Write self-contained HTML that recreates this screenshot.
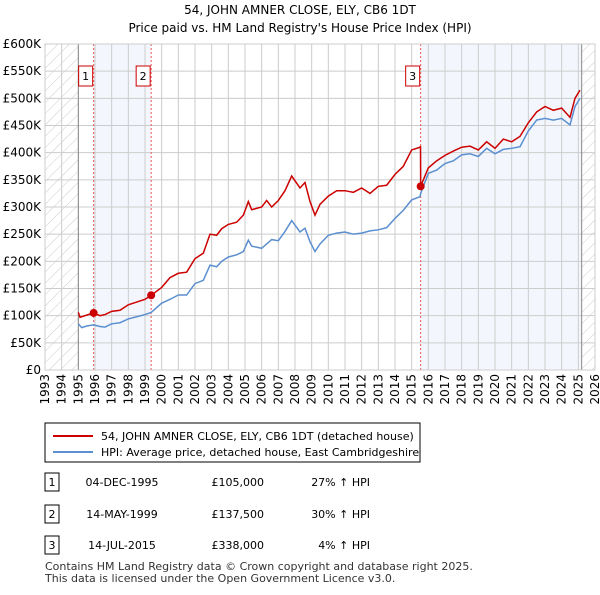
<!DOCTYPE html>
<html><head><meta charset="utf-8"><style>
body{margin:0;width:600px;height:590px;background:#fff;font-family:"Liberation Sans",sans-serif;overflow:hidden}
svg text{font-family:"DejaVu Sans","Liberation Sans",sans-serif}
</style></head><body>
<svg id="c" width="600" height="590">
<defs><pattern id="h" width="8" height="8" patternUnits="userSpaceOnUse" patternTransform="rotate(45)"><line x1="0" y1="0" x2="0" y2="8" stroke="#ccc" stroke-width="1"/></pattern></defs>
<text x="300" y="14" text-anchor="middle" font-size="12">54, JOHN AMNER CLOSE, ELY, CB6 1DT</text>
<text x="300" y="32" text-anchor="middle" font-size="12">Price paid vs. HM Land Registry's House Price Index (HPI)</text>
<g id="plot"></g>
<rect x="45" y="423" width="375" height="39" fill="#fff" stroke="#000" stroke-width="1"/>
<line x1="53" y1="436" x2="93" y2="436" stroke="#cc0000" stroke-width="2"/>
<text x="101" y="440" font-size="11">54, JOHN AMNER CLOSE, ELY, CB6 1DT (detached house)</text>
<line x1="53" y1="452" x2="93" y2="452" stroke="#5b8fd0" stroke-width="2"/>
<text x="101" y="456" font-size="11">HPI: Average price, detached house, East Cambridgeshire</text>
<g id="tbl" font-size="11"></g>
<text x="45" y="570" font-size="11" fill="#333">Contains HM Land Registry data © Crown copyright and database right 2025.</text>
<text x="45" y="582" font-size="11" fill="#333">This data is licensed under the Open Government Licence v3.0.</text>
</svg>
<script>
const hpiYears=[1995.0,1995.2,1995.5,1995.92,1996.3,1996.6,1997.0,1997.5,1998.0,1998.5,1999.0,1999.37,2000.0,2000.5,2001.0,2001.5,2002.0,2002.5,2002.9,2003.3,2003.6,2004.0,2004.5,2004.9,2005.2,2005.4,2006.0,2006.3,2006.6,2007.0,2007.4,2007.8,2008.3,2008.6,2008.9,2009.2,2009.5,2010.0,2010.5,2011.0,2011.5,2012.0,2012.5,2013.0,2013.5,2014.0,2014.5,2015.0,2015.5,2015.54,2016.0,2016.5,2017.0,2017.5,2018.0,2018.5,2019.0,2019.5,2020.0,2020.5,2021.0,2021.5,2022.0,2022.5,2023.0,2023.5,2024.0,2024.5,2024.8,2025.1];
const hpiValues=[85,78,81,83,80,79,85,87,94,98,102,106,123,130,138,138,159,165,193,190,200,208,212,218,239,228,224,232,240,238,255,275,254,261,236,218,232,248,252,254,250,252,256,258,262,279,294,313,319,325,362,368,380,385,396,398,393,408,398,406,408,411,440,460,463,460,463,451,485,500];
const redYears=[1995.0,1995.1,1995.5,1995.92,1996.3,1996.6,1997.0,1997.5,1998.0,1998.5,1999.0,1999.37,2000.0,2000.5,2001.0,2001.5,2002.0,2002.5,2002.9,2003.3,2003.6,2004.0,2004.5,2004.9,2005.2,2005.4,2006.0,2006.3,2006.6,2007.0,2007.4,2007.8,2008.3,2008.6,2008.9,2009.2,2009.5,2010.0,2010.5,2011.0,2011.5,2012.0,2012.5,2013.0,2013.5,2014.0,2014.5,2015.0,2015.5,2015.53,2015.54,2016.0,2016.5,2017.0,2017.5,2018.0,2018.5,2019.0,2019.5,2020.0,2020.5,2021.0,2021.5,2022.0,2022.5,2023.0,2023.5,2024.0,2024.5,2024.8,2025.1];
const redValues=[106,97,101,105,100,102,108,110,120,125,130,137.5,152,170,178,180,205,215,250,248,260,268,272,285,310,295,300,312,300,312,330,357,335,345,310,285,305,320,330,330,327,335,325,338,340,360,375,405,410,412,338,372,385,395,403,410,412,405,420,408,425,420,430,455,475,485,478,482,465,500,515];
const sales=[{n:"1",x:1995.92,v:105,date:"04-DEC-1995",price:"£105,000",pct:"27% ↑ HPI"},{n:"2",x:1999.37,v:137.5,date:"14-MAY-1999",price:"£137,500",pct:"30% ↑ HPI"},{n:"3",x:2015.54,v:338,date:"14-JUL-2015",price:"£338,000",pct:"4% ↑ HPI"}];
const yTicks=[0,50,100,150,200,250,300,350,400,450,500,550,600];
const yTickLabels=["£0","£50K","£100K","£150K","£200K","£250K","£300K","£350K","£400K","£450K","£500K","£550K","£600K"];
const xTicks=[];for(let y=1993;y<=2026;y++)xTicks.push(y);
const X0=45,X1=595,Y0=370,Y1=44,ymin=1993,ymax=2026;
const sx=y=>X0+(y-ymin)/(ymax-ymin)*(X1-X0);
const sy=v=>Y0-v/600*(Y0-Y1);
const NS="http://www.w3.org/2000/svg";
const plot=document.getElementById('plot');
function mk(t,a,p){const e=document.createElementNS(NS,t);for(const k in a)e.setAttribute(k,a[k]);(p||plot).appendChild(e);return e;}
let e;
e=mk('rect',{x:X0,y:Y1,width:sx(1995)-X0,height:Y0-Y1,fill:'url(#h)'});


e=mk('rect',{x:sx(2025.2),y:Y1,width:X1-sx(2025.2),height:Y0-Y1,fill:'url(#h)'});


e=mk('rect',{x:sx(sales[0].x),y:Y1,width:sx(sales[1].x)-sx(sales[0].x),height:Y0-Y1,fill:'#eef3fc',opacity:0.7});


e=mk('rect',{x:sx(sales[2].x),y:Y1,width:sx(2025.2)-sx(sales[2].x),height:Y0-Y1,fill:'#eef3fc',opacity:0.7});


xTicks.forEach(t=>{e=mk('line',{x1:sx(t),x2:sx(t),y1:Y1,y2:Y0,stroke:'#ccc'});


const tx=sx(t)+4,ty=Y0+4;
e=mk('text',{x:tx,y:ty,'text-anchor':'end','font-size':12,transform:'rotate(-90 '+tx+' '+ty+')'});e.textContent=t;

});
yTicks.forEach((t,i)=>{e=mk('line',{x1:X0,x2:X1,y1:sy(t),y2:sy(t),stroke:'#ccc'});


e=mk('text',{x:X0-4,y:sy(t)+4,'text-anchor':'end','font-size':12});e.textContent=yTickLabels[i];

});
[1995,2025.2].forEach(t=>{e=mk('line',{x1:sx(t),x2:sx(t),y1:Y1,y2:Y0,stroke:'#888'});

});
sales.forEach(s=>{e=mk('line',{x1:sx(s.x),x2:sx(s.x),y1:Y1,y2:Y0,stroke:'#e55','stroke-dasharray':'2,2'});


e=mk('rect',{x:sx(s.x)-15,y:66,width:14,height:20,fill:'#fff',stroke:'#c00'});


e=mk('text',{x:sx(s.x)-8,y:80,'text-anchor':'middle','font-size':11});e.textContent=s.n;

});
e=mk('polyline',{points:hpiYears.map((y,i)=>sx(y)+','+sy(hpiValues[i])).join(' '),fill:'none',stroke:'#5b8fd0','stroke-width':1.5});


e=mk('polyline',{points:redYears.map((y,i)=>sx(y)+','+sy(redValues[i])).join(' '),fill:'none',stroke:'#cc0000','stroke-width':1.5});


sales.forEach(s=>{e=mk('circle',{cx:sx(s.x),cy:sy(s.v),r:4,fill:'#cc0000'});

});
e=mk('rect',{x:X0,y:Y1,width:X1-X0,height:Y0-Y1,fill:'none',stroke:'#ccc'});


const tbl=document.getElementById('tbl');const rowsY=[486,518,549];
sales.forEach((s,i)=>{const y=rowsY[i];
e=mk('rect',{x:45,y:y-13,width:14,height:18,fill:'#fff',stroke:'#000'},tbl);


e=mk('text',{x:52,y:y,'text-anchor':'middle'},tbl);e.textContent=s.n;


e=mk('text',{x:122,y:y,'text-anchor':'middle'},tbl);e.textContent=s.date;


e=mk('text',{x:264,y:y,'text-anchor':'end'},tbl);e.textContent=s.price;


e=mk('text',{x:370,y:y,'text-anchor':'end'},tbl);e.textContent=s.pct;

});
</script>
</body></html>
